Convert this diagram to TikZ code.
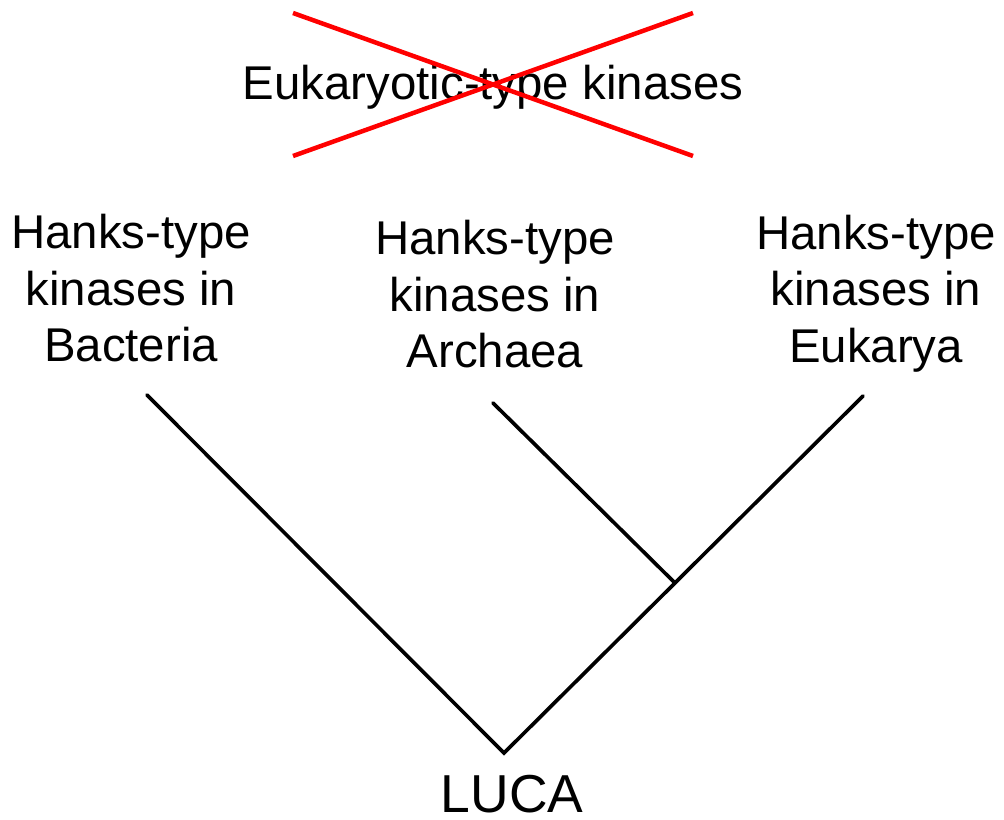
\documentclass[tikz,border=0pt]{standalone}
\usepackage{fontspec}
\setmainfont{Liberation Sans}
\usepackage{tikz}
\usetikzlibrary{calc}

\begin{document}
\begin{tikzpicture} [x=.025cm,y=-.025cm,
  branch/.style={black,line width=2.6pt,line cap=round,line join=miter},
  cross/.style={red,line width=3.2pt},
  taxon/.style={align=center,inner sep=0,font=\fontsize{33.7}{40.2}\selectfont}]
\useasboundingbox (0,0) rectangle (1004,820);

\node[taxon,anchor=base] (euk) at (493,100) {Eukaryotic-type kinases};
\coordinate (xa) at (293,13);
\coordinate (xb) at (693,156);
\coordinate (xc) at (293,156);
\coordinate (xd) at (693,13);
\draw[cross] (xa)--(xb);
\draw[cross] (xc)--(xd);

\node[taxon] (bac) at (131,288.5) {Hanks-type\\kinases in\\Bacteria};
\node[taxon] (arc) at (495,294.5) {Hanks-type\\kinases in\\Archaea};
\node[taxon] (eka) at (876,293.5) {Hanks-type\\kinases in\\Eukarya};

\coordinate (tbac) at (147,395);
\coordinate (tarc) at (493,403);
\coordinate (teka) at (863,396);
\coordinate (root) at (504,753);
\coordinate (join) at (674,582);
\draw[branch] (tbac)--(root)--(teka);
\draw[branch] (tarc)--(join);

\node[anchor=base,inner sep=0,font=\fontsize{38}{45}\selectfont] (luca) at (512,812) {LUCA};
\end{tikzpicture}
\end{document}
